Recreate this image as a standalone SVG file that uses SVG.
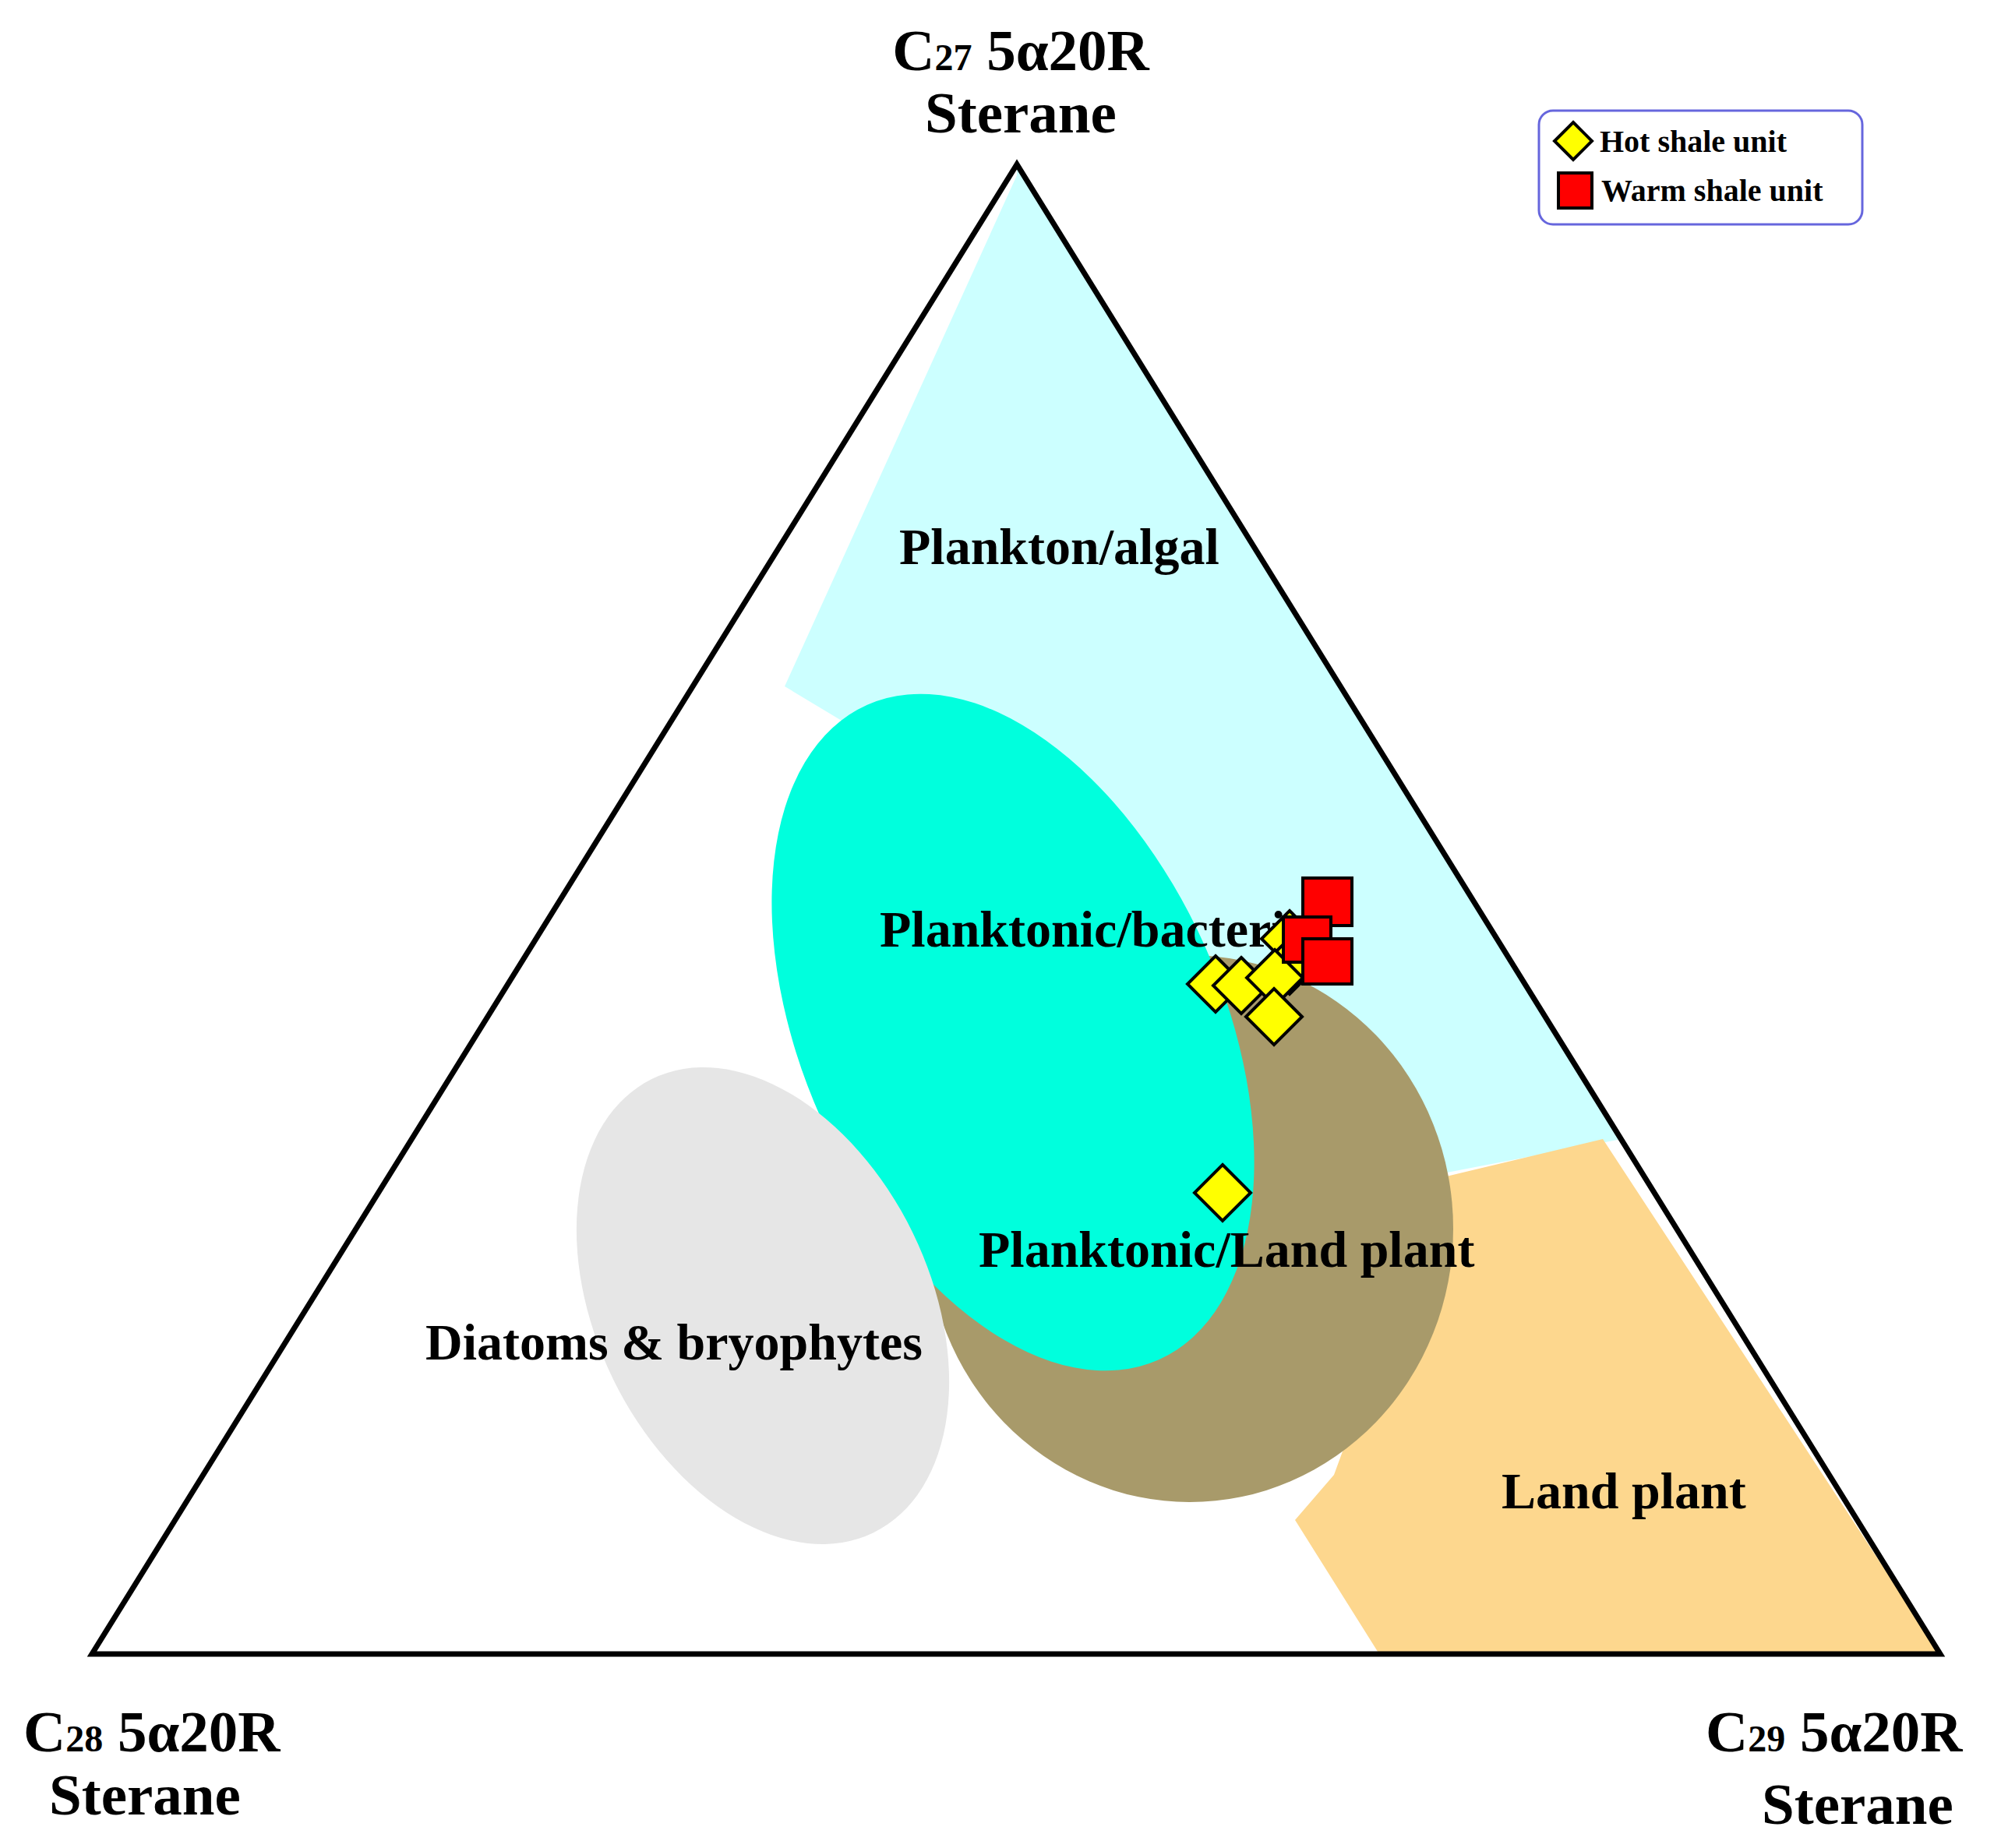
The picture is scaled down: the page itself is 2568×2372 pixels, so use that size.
<svg xmlns="http://www.w3.org/2000/svg" width="2568" height="2372" viewBox="0 0 2568 2372">
<style>
text{font-family:"Liberation Serif","Times New Roman",serif;font-weight:bold;fill:#000}
.t{font-size:75px}
.l{font-size:66px}
.g{font-size:40px}
.d{fill:#FFFF00;stroke:#000;stroke-width:4}
.s{fill:#FF0000;stroke:#000;stroke-width:4}
</style>
<defs>
<polygon id="dia" class="d" points="0,-36 36,0 0,36 -36,0"/>
</defs>
<rect width="2568" height="2372" fill="#fff"/>
<g id="regions">
<polygon id="plankton-algal" fill="#CCFFFF" points="1305,225 1007,881 1185,988 1810,1514 2081,1462 1305,211"/>
<polygon id="land-plant" fill="#FDD78E" points="1852,1511 2057,1462 2490,2123 1770,2123 1662,1951 1712,1893"/>
<ellipse id="planktonic-land-plant" fill="#A89A6A" cx="1527" cy="1577" rx="338" ry="351"/>
<ellipse id="planktonic-bacteria" fill="#00FFDD" cx="1300" cy="1325" rx="460" ry="270" transform="rotate(66 1300 1325)"/>
<ellipse id="diatoms" fill="#E6E6E6" cx="979" cy="1676" rx="324" ry="214" transform="rotate(64 979 1676)"/>
</g>
<g id="triangle">
<polygon points="1305,211 118,2123 2490,2123" fill="none" stroke="#000" stroke-width="7" stroke-linejoin="miter"/>
</g>
<g id="labels">
<text class="l" x="1154" y="724">Plankton/algal</text>
<text class="l" x="1129" y="1215">Planktonic/bacteria</text>
<text class="l" x="1256" y="1626">Planktonic/Land plant</text>
<text class="l" x="546" y="1745">Diatoms &amp; bryophytes</text>
<text class="l" x="1927" y="1936">Land plant</text>
</g>
<g id="points">
<use href="#dia" x="1655" y="1205"/>
<use href="#dia" x="1655" y="1240"/>
<use href="#dia" x="1560" y="1263"/>
<use href="#dia" x="1593" y="1265"/>
<use href="#dia" x="1636" y="1255"/>
<use href="#dia" x="1635" y="1305"/>
<use href="#dia" x="1569" y="1531"/>
<rect class="s" x="1672" y="1127" width="63" height="61"/>
<rect class="s" x="1647" y="1177" width="61" height="58"/>
<rect class="s" x="1672" y="1205" width="63" height="58"/>
</g>
<g id="axis-titles">
<text class="t" text-anchor="middle" x="1310" y="90">C<tspan font-size="48">27</tspan> 5α20R</text>
<text class="t" text-anchor="middle" x="1310" y="170">Sterane</text>
<text class="t" x="30" y="2248">C<tspan font-size="48">28</tspan> 5α20R</text>
<text class="t" text-anchor="middle" x="186" y="2329">Sterane</text>
<text class="t" x="2189" y="2248">C<tspan font-size="48">29</tspan> 5α20R</text>
<text class="t" text-anchor="middle" x="2384" y="2341">Sterane</text>
</g>
<g id="legend">
<rect x="1975" y="142" width="415" height="146" rx="18" fill="#fff" stroke="#6666DD" stroke-width="3"/>
<polygon class="d" points="2019,157 2043,181 2019,205 1995,181"/>
<rect class="s" x="2000" y="222" width="43" height="45"/>
<text class="g" x="2053" y="195">Hot shale unit</text>
<text class="g" x="2055" y="258">Warm shale unit</text>
</g>
</svg>
